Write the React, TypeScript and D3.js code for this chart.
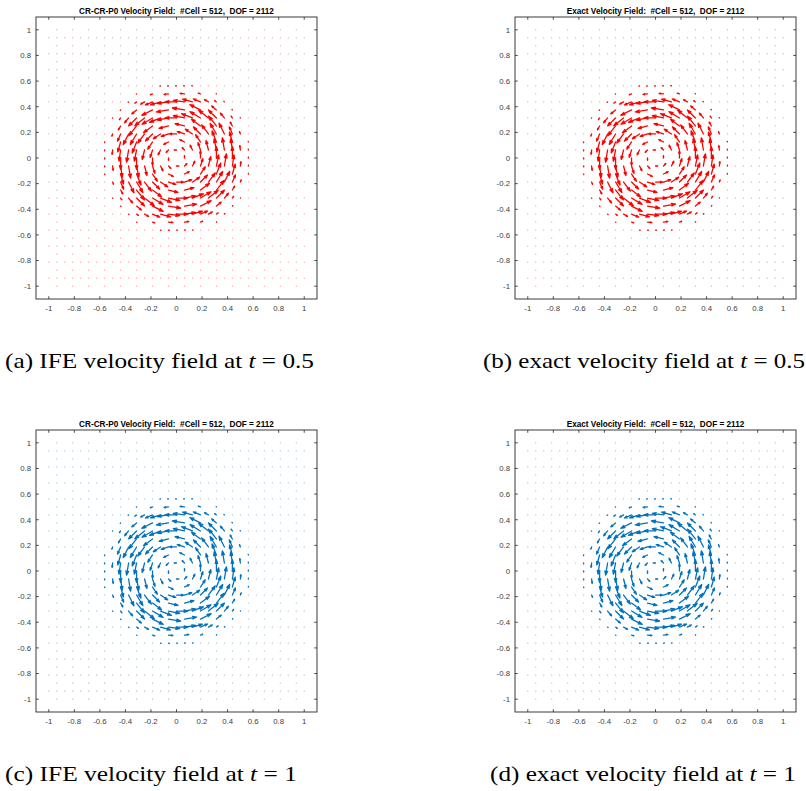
import React from "react";
import * as d3 from "d3";

// ---- data ----
const meshStep = 0.0625; // half of the 16x16 mesh size (edge-midpoint lattice)
const meshIndex = d3.range(0, 33);
const tickValues = [-1, -0.8, -0.6, -0.4, -0.2, 0, 0.2, 0.4, 0.6, 0.8, 1];
const tickLabels = ["-1", "-0.8", "-0.6", "-0.4", "-0.2", "0", "0.2", "0.4", "0.6", "0.8", "1"];
const profileRadius = [0, 0.05, 0.1, 0.15, 0.2, 0.25, 0.3, 0.35, 0.4, 0.45, 0.5, 0.55, 0.6];
const profileSpeed = [0, 0.14, 0.3, 0.46, 0.62, 0.76, 0.88, 0.97, 1.0, 0.88, 0.38, 0.1, 0];
const panelTitles = [
  "CR-CR-P0 Velocity Field:  #Cell = 512,  DOF = 2112",
  "Exact Velocity Field:  #Cell = 512,  DOF = 2112",
  "CR-CR-P0 Velocity Field:  #Cell = 512,  DOF = 2112",
  "Exact Velocity Field:  #Cell = 512,  DOF = 2112",
];
const captionPrefix = ["(a) IFE velocity field at ", "(b) exact velocity field at ", "(c) IFE velocity field at ", "(d) exact velocity field at "];
const captionTime = ["0.5", "0.5", "1", "1"];
const panelColors = ["#ff0000", "#ff0000", "#0072bd", "#0072bd"];

// ---- layout ----
const boxes = [
  { x0: 36, x1: 317, y0: 17, y1: 299, capX: 5, capY: 368, capW: 309 },
  { x0: 515, x1: 796, y0: 17, y1: 299, capX: 483, capY: 368, capW: 322 },
  { x0: 36, x1: 317, y0: 430, y1: 712, capX: 5, capY: 781, capW: 292 },
  { x0: 515, x1: 796, y0: 430, y1: 712, capX: 490, capY: 781, capW: 306 },
];
const maxArrowPx = 12.5;

const speedScale = d3.scaleLinear().domain(profileRadius).range(profileSpeed).clamp(true);

type Pt = { x: number; y: number; u: number; v: number; s: number };
const points: Pt[] = [];
meshIndex.forEach((i) => {
  meshIndex.forEach((j) => {
    if (i % 2 === 0 && j % 2 === 0) return;
    const x = -1 + i * meshStep;
    const y = -1 + j * meshStep;
    const r = Math.hypot(x, y);
    const s = r > 0 ? speedScale(r) : 0;
    points.push({ x, y, u: r > 0 ? (-y / r) * s : 0, v: r > 0 ? (x / r) * s : 0, s });
  });
});

function Panel({ k }: { k: number }) {
  const b = boxes[k];
  const color = panelColors[k];
  const xs = d3.scaleLinear().domain([-1.1, 1.1]).range([b.x0, b.x1]);
  const ys = d3.scaleLinear().domain([-1.1, 1.1]).range([b.y1, b.y0]);
  const tl = 2.8;
  const axisColor = "#262626";
  return (
    <g>
      <rect x={b.x0} y={b.y0} width={b.x1 - b.x0} height={b.y1 - b.y0} fill="#fff" />
      {points.map((p, idx) => {
        const px = xs(p.x);
        const py = ys(p.y);
        if (p.s < 0.02) {
          return <rect key={idx} x={px - 0.5} y={py - 0.5} width={1} height={1} fill={color} opacity={0.5} />;
        }
        const dx = p.u * maxArrowPx;
        const dy = -p.v * maxArrowPx;
        const tx = px + dx;
        const ty = py + dy;
        const a = 0.33, bb = 0.33;
        const h1x = tx - a * (dx + bb * dy);
        const h1y = ty - a * (dy - bb * dx);
        const h2x = tx - a * (dx - bb * dy);
        const h2y = ty - a * (dy + bb * dx);
        return (
          <path
            key={idx}
            d={`M${px},${py}L${tx},${ty}M${h1x},${h1y}L${tx},${ty}L${h2x},${h2y}`}
            stroke={color}
            strokeWidth={1.3}
            fill="none"
            strokeLinecap="round"
            strokeLinejoin="round"
          />
        );
      })}
      <rect x={b.x0} y={b.y0} width={b.x1 - b.x0} height={b.y1 - b.y0} fill="none" stroke={axisColor} strokeWidth={0.9} />
      {tickValues.map((t, i) => (
        <g key={"t" + i}>
          <line x1={xs(t)} x2={xs(t)} y1={b.y1} y2={b.y1 - tl} stroke={axisColor} strokeWidth={0.8} />
          <line x1={xs(t)} x2={xs(t)} y1={b.y0} y2={b.y0 + tl} stroke={axisColor} strokeWidth={0.8} />
          <line x1={b.x0} x2={b.x0 + tl} y1={ys(t)} y2={ys(t)} stroke={axisColor} strokeWidth={0.8} />
          <line x1={b.x1} x2={b.x1 - tl} y1={ys(t)} y2={ys(t)} stroke={axisColor} strokeWidth={0.8} />
          <text x={xs(t)} y={b.y1 + 12} textAnchor="middle" fontSize={7.8} fill="#404040" fontFamily="'Liberation Sans', Arial, sans-serif">
            {tickLabels[i]}
          </text>
          <text x={b.x0 - 5} y={ys(t) + 2.8} textAnchor="end" fontSize={7.8} fill="#404040" fontFamily="'Liberation Sans', Arial, sans-serif">
            {tickLabels[i]}
          </text>
        </g>
      ))}
      <text
        x={(b.x0 + b.x1) / 2}
        y={b.y0 - 3.5}
        textAnchor="middle"
        fontSize={8.2}
        fontWeight="bold"
        fill="#000"
        fontFamily="'Liberation Sans', Arial, sans-serif"
        style={{ whiteSpace: "pre" }}
      >
        {panelTitles[k]}
      </text>
      <text
        x={b.capX}
        y={b.capY}
        fontSize={22}
        fill="#000"
        fontFamily="'Liberation Serif', 'Times New Roman', serif"
        style={{ whiteSpace: "pre" }}
        textLength={b.capW}
        lengthAdjust="spacingAndGlyphs"
      >
        {captionPrefix[k]}
        <tspan fontStyle="italic">t</tspan>
        {" = " + captionTime[k]}
      </text>
    </g>
  );
}

export default function App() {
  return (
    <svg width={806} height={791} style={{ position: "absolute", left: 0, top: 0, background: "#fff" }}>
      <rect width={806} height={791} fill="#fff" />
      {[0, 1, 2, 3].map((k) => (
        <Panel key={k} k={k} />
      ))}
    </svg>
  );
}
